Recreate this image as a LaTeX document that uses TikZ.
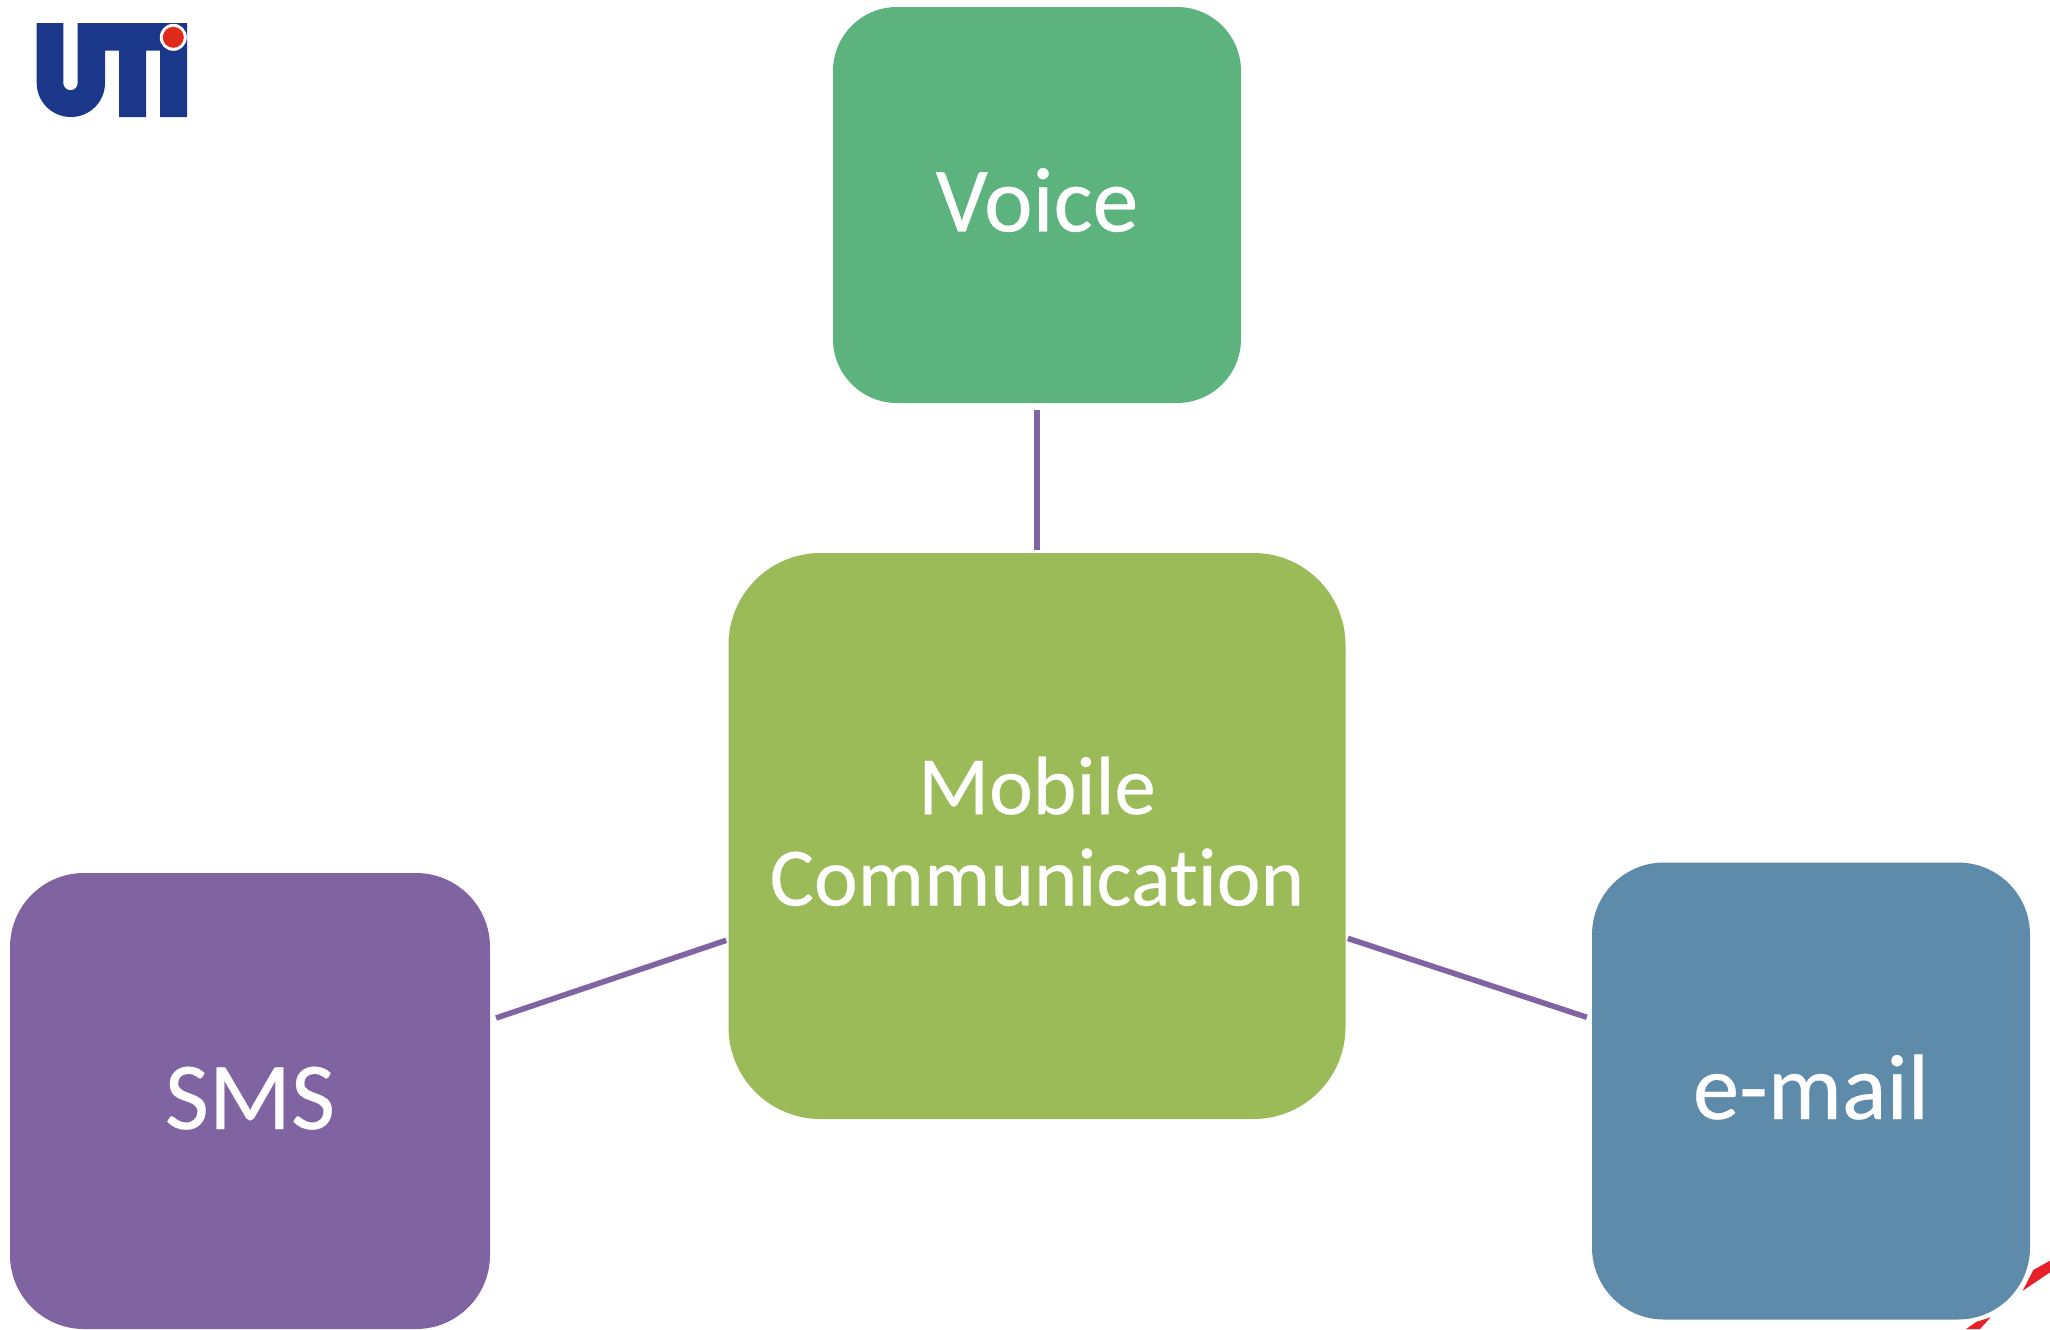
\documentclass[tikz,border=0pt]{standalone}
\usepackage{fontspec}
\setmainfont{Carlito}[Ligatures=NoCommon,FakeBold=0.3]
\definecolor{voicegreen}{HTML}{5DB37E}
\definecolor{mobilegreen}{HTML}{9BBB59}
\definecolor{smspurple}{HTML}{8064A2}
\definecolor{mailblue}{HTML}{5F8BAB}
\definecolor{logoblue}{HTML}{1B378A}
\definecolor{logored}{HTML}{E02A1C}
\definecolor{swooshred}{HTML}{E8202A}
\tikzset{
  cardbox/.style={rectangle,inner sep=0pt,align=center,text=white},
  linkline/.style={draw=smspurple,line width=2.8pt},
}
\begin{document}
\begin{tikzpicture}[x=0.5pt,y=-0.5pt]
\useasboundingbox (0,0) rectangle (2050,1329);
% red swoosh fragments
\fill[swooshred] (2050,1260.7) -- (2033.3,1270) -- (2022.7,1290.7) -- (2050,1272.3) -- cycle;
\fill[swooshred] (1990.7,1317.3) -- (1976.7,1321.7) -- (1966,1329) -- (1980,1329) -- cycle;
% logo
\fill[logoblue] (36.7,23) -- (63.3,23) -- (63.3,83)
  .. controls (63.3,87) and (66.5,90.2) .. (70.5,90.2)
  .. controls (74.5,90.2) and (77.7,87) .. (77.7,83)
  -- (77.7,23) -- (187,23) -- (187,117) -- (160,117) -- (160,50.7) -- (146,50.7)
  -- (146,117) -- (119,117) -- (119,50.7) -- (105,50.7) -- (105,83)
  .. controls (105,101.8) and (89.8,117) .. (70.9,117)
  .. controls (52,117) and (36.7,101.8) .. (36.7,83) -- cycle;
\fill[white] (173.3,37.3) circle[radius=13.5];
\fill[logored] (173.3,37.3) circle[radius=10.5];
% boxes
\node[cardbox,fill=voicegreen,minimum width=204pt,minimum height=198pt,rounded corners=32pt,
  font=\fontsize{46}{46}\selectfont,text height=26.4pt,text depth=0pt] (voice) at (1037,205) {Voice};
\node[cardbox,fill=mobilegreen,minimum width=308.5pt,minimum height=283pt,rounded corners=46pt,
  font=\fontsize{41.5}{45.7}\selectfont] (mobile) at (1037,836) {Mobile\\Communication\rule[-5pt]{0pt}{0pt}};
\node[cardbox,fill=smspurple,minimum width=240pt,minimum height=228pt,rounded corners=37pt,
  font=\fontsize{48}{48}\selectfont,text height=28pt,text depth=0pt] (sms) at (250,1101) {SMS};
\node[cardbox,fill=mailblue,minimum width=219pt,minimum height=228.5pt,rounded corners=36pt,
  font=\fontsize{46.5}{46.5}\selectfont,text height=28pt,text depth=0pt] (mail) at (1811,1091) {e-mail};
% connectors
\draw[linkline,shorten <=3.5pt,shorten >=1.5pt] (voice) -- (mobile);
\draw[linkline,shorten <=3pt,shorten >=1pt] (sms) -- (mobile);
\draw[linkline,shorten <=1pt,shorten >=2.5pt] (mobile) -- (mail);
\end{tikzpicture}
\end{document}
